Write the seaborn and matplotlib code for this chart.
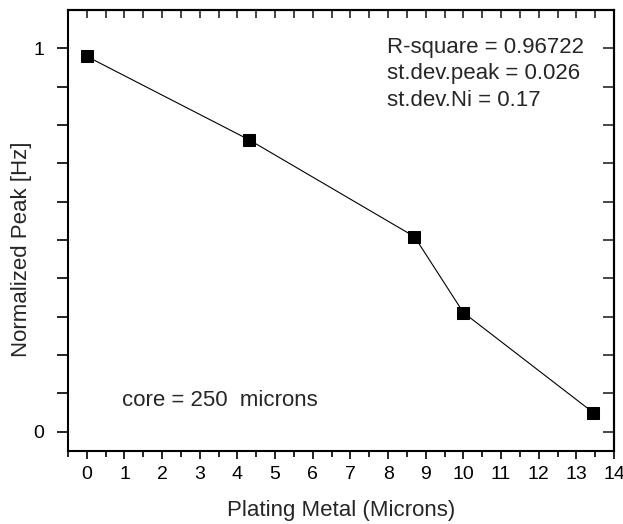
import pandas as pd
import numpy as np
import seaborn as sns
import matplotlib.pyplot as plt
from matplotlib.ticker import MultipleLocator, FixedLocator

# values
plating = [0.0, 4.3, 8.7, 10.0, 13.45]
peak = [0.979, 0.762, 0.509, 0.311, 0.050]
stats_lines = ["R-square = 0.96722", "st.dev.peak = 0.026", "st.dev.Ni = 0.17"]
core_note = "core = 250  microns"

df = pd.DataFrame({"plating": plating, "peak": peak})

sns.set_style("white")
plt.rcParams['font.family'] = ['Liberation Sans', 'DejaVu Sans']

fig = plt.figure(figsize=(6.23, 5.24), dpi=100)
ax = fig.add_axes([68 / 623, 1 - 451 / 524, (614 - 68) / 623, (451 - 10) / 524])

sns.lineplot(data=df, x="plating", y="peak", ax=ax, color="black", linewidth=0.8,
             marker="s", markersize=9, markeredgecolor="black", markerfacecolor="black")

ax.set_xlim(-0.5, 14)
ax.set_ylim(-0.05, 1.1)

for s in ax.spines.values():
    s.set_linewidth(1.5)
    s.set_color("black")

# bottom/left: outward ticks, top/right: inward ticks
ax.xaxis.set_major_locator(MultipleLocator(1))
ax.xaxis.set_minor_locator(MultipleLocator(0.5))
ax.yaxis.set_major_locator(FixedLocator([0, 1]))
ax.yaxis.set_minor_locator(FixedLocator(np.arange(0.1, 1.0, 0.1)))
ax.tick_params(axis="both", which="both", direction="out", width=1.2, colors="black",
               labelsize=14, top=False, right=False, bottom=True, left=True)
ax.tick_params(axis="x", which="major", length=6, pad=5)
ax.tick_params(axis="x", which="minor", length=4)
ax.tick_params(axis="y", which="both", length=8, pad=9)

sec_x = ax.secondary_xaxis("top")
sec_x.xaxis.set_major_locator(MultipleLocator(0.5))
sec_x.tick_params(direction="in", length=6, width=1.2, labeltop=False)
sec_x.spines["top"].set_linewidth(1.5)

sec_y = ax.secondary_yaxis("right")
sec_y.yaxis.set_major_locator(FixedLocator(np.arange(0, 1.05, 0.1)))
sec_y.tick_params(direction="in", length=8, width=1.2, labelright=False)
sec_y.spines["right"].set_linewidth(1.5)

ax.set_xlabel("Plating Metal (Microns)", fontsize=16, labelpad=12)
ax.set_ylabel("Normalized Peak [Hz]", fontsize=16)
ax.yaxis.set_label_coords(-0.066, 0.458)

ax.text(0.585, 0.938, "\n".join(stats_lines), transform=ax.transAxes, fontsize=16,
        va="top", ha="left", linespacing=1.32)
ax.text(0.098, 0.115, core_note, transform=ax.transAxes, fontsize=16, va="center", ha="left")

plt.savefig("out.png", dpi=100)
plt.close()
